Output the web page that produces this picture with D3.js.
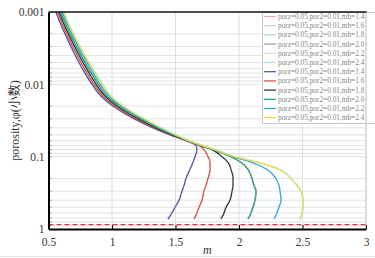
<!DOCTYPE html>
<html>
<head>
<meta charset="utf-8">
<script src="https://cdn.jsdelivr.net/npm/d3@7"></script>
<style>
  html, body { margin: 0; padding: 0; background: #fff; }
  svg { display: block; font-family: "Liberation Serif", "Times New Roman", serif; }
</style>
</head>
<body>
<div id="chart"></div>
<script>
// 공통 porosity 격자 (y축)
const porosity = [0.001, 0.0015, 0.002, 0.003, 0.005, 0.007, 0.01, 0.015, 0.02, 0.03, 0.04, 0.05,
  0.06, 0.07, 0.08, 0.1, 0.12, 0.15, 0.2, 0.25, 0.3, 0.4, 0.5, 0.6, 0.73];

// m 값
const mb14 = [0.559, 0.598, 0.630, 0.677, 0.740, 0.787, 0.843, 0.921, 1.008, 1.173, 1.323, 1.457,
  1.583, 1.661, 1.669, 1.654, 1.638, 1.614, 1.583, 1.567, 1.551, 1.528, 1.496, 1.472, 1.441];
const mb16 = [0.572, 0.611, 0.643, 0.691, 0.756, 0.804, 0.859, 0.937, 1.024, 1.189, 1.336, 1.466,
  1.586, 1.685, 1.724, 1.756, 1.772, 1.772, 1.756, 1.740, 1.724, 1.709, 1.685, 1.669, 1.646];
const mb18 = [0.584, 0.624, 0.656, 0.706, 0.772, 0.820, 0.875, 0.953, 1.040, 1.205, 1.348, 1.474,
  1.589, 1.693, 1.787, 1.866, 1.913, 1.937, 1.953, 1.953, 1.945, 1.929, 1.898, 1.882, 1.858];
const mb20 = [0.597, 0.636, 0.670, 0.720, 0.787, 0.837, 0.892, 0.968, 1.055, 1.220, 1.361, 1.483,
  1.592, 1.697, 1.795, 1.937, 2.016, 2.071, 2.102, 2.118, 2.134, 2.126, 2.110, 2.094, 2.071];
const mb22 = [0.609, 0.649, 0.683, 0.734, 0.803, 0.853, 0.908, 0.984, 1.071, 1.236, 1.373, 1.491,
  1.595, 1.701, 1.803, 1.953, 2.102, 2.220, 2.291, 2.315, 2.323, 2.331, 2.315, 2.299, 2.276];
const mb24 = [0.622, 0.661, 0.697, 0.748, 0.819, 0.870, 0.925, 1.000, 1.087, 1.252, 1.386, 1.500,
  1.598, 1.705, 1.807, 1.961, 2.150, 2.315, 2.409, 2.457, 2.488, 2.504, 2.504, 2.496, 2.480];

const mbLabels = ['1.4', '1.6', '1.8', '2.0', '2.2', '2.4'];
const xTicks = [0.5, 1, 1.5, 2, 2.5, 3];
const xTickLabels = ['0.5', '1', '1.5', '2', '2.5', '3'];
const yTicks = [0.001, 0.01, 0.1, 1];
const yTickLabels = ['0.001', '0.01', '0.1', '1'];
const cutoff = 0.87;

const width = 375, height = 258;
const plotLeft = 48.5, plotRight = 366, plotTop = 12, plotBottom = 229;

const series = [mb14, mb16, mb18, mb20, mb22, mb24];
const mainColors = ['#3a55a8', '#e0443c', '#2b2b2b', '#1fa463', '#1aa8e0', '#eedc3a'];
const faintColors = ['#f2aab2', '#cfcfcf', '#a9d9c9', '#9a9a9a', '#dadada', '#a9dbea'];

const svg = d3.select('#chart').append('svg')
  .attr('width', width)
  .attr('height', height)
  .attr('viewBox', `0 0 ${width} ${height}`);

const x = d3.scaleLinear().domain([0.5, 3]).range([plotLeft, plotRight]);
const y = d3.scaleLog().domain([0.001, 1]).range([plotTop, plotBottom]);

// 격자
const minor = [];
[0.001, 0.01, 0.1].forEach(d => { for (let k = 1; k <= 9; k++) minor.push(d * k); });
const inner = minor.filter(v => v > 0.001 && v < 1);

svg.append('g').selectAll('line')
  .data(inner)
  .enter().append('line')
  .attr('x1', plotLeft).attr('x2', plotRight)
  .attr('y1', d => y(d)).attr('y2', d => y(d))
  .style('stroke', '#e3e3e3').style('stroke-width', '1px');

svg.append('g').selectAll('line')
  .data(xTicks.slice(1, -1))
  .enter().append('line')
  .attr('x1', d => x(d)).attr('x2', d => x(d))
  .attr('y1', plotTop).attr('y2', plotBottom)
  .style('stroke', '#dedede').style('stroke-width', '1px');

// 왼쪽 보조 눈금
svg.append('g').selectAll('line')
  .data(inner)
  .enter().append('line')
  .attr('x1', plotLeft).attr('x2', plotLeft + 3)
  .attr('y1', d => y(d)).attr('y2', d => y(d))
  .style('stroke', '#999').style('stroke-width', '1px');

// 곡선
const line = d3.line()
  .x(d => x(d[0]))
  .y(d => y(d[1]))
  .curve(d3.curveMonotoneY);

const curves = svg.append('g');
series.forEach((s, i) => {
  curves.append('path')
    .datum(s.map((m, j) => [m, porosity[j]]))
    .attr('d', line)
    .style('fill', 'none')
    .style('stroke', faintColors[i])
    .style('stroke-width', '2px')
    .style('stroke-dasharray', '1.5,1');
});
series.forEach((s, i) => {
  curves.append('path')
    .datum(s.map((m, j) => [m, porosity[j]]))
    .attr('d', line)
    .style('fill', 'none')
    .style('stroke', mainColors[i])
    .style('stroke-width', '1.1px');
});

// 기준선 (빨간 점선)
svg.append('line')
  .attr('x1', plotLeft).attr('x2', plotRight)
  .attr('y1', y(cutoff)).attr('y2', y(cutoff))
  .style('stroke', '#e8333a').style('stroke-width', '1.2px')
  .style('stroke-dasharray', '5,3');

// 범례
const lg = svg.append('g');
lg.append('rect')
  .attr('x', 262.5).attr('y', 12.5).attr('width', 120).attr('height', 111)
  .style('fill', '#fff').style('stroke', '#c8c8c8').style('stroke-width', '1px');

const legendItems = [];
mbLabels.forEach((l, i) => legendItems.push({ label: l, color: faintColors[i] }));
mbLabels.forEach((l, i) => legendItems.push({ label: l, color: mainColors[i] }));

legendItems.forEach((d, i) => {
  const ly = 16.5 + i * 9.2;
  lg.append('line')
    .attr('x1', 264).attr('x2', 276)
    .attr('y1', ly).attr('y2', ly)
    .style('stroke', d.color).style('stroke-width', '1.2px');
  lg.append('text')
    .attr('x', 278).attr('y', ly + 2.4)
    .style('font-size', '7.3px')
    .style('fill', '#858585')
    .text(`porz=0.05,por2=0.01,mb=${d.label}`);
});

// 틀
svg.append('line').attr('x1', plotLeft).attr('x2', plotRight + 1).attr('y1', plotTop).attr('y2', plotTop)
  .style('stroke', '#111').style('stroke-width', '1.5px');
svg.append('line').attr('x1', plotRight).attr('x2', plotRight).attr('y1', plotTop).attr('y2', plotBottom)
  .style('stroke', '#bbb').style('stroke-width', '1px');

// 축
const xAxis = d3.axisBottom(x)
  .tickValues(xTicks)
  .tickFormat((d, i) => xTickLabels[i])
  .tickSizeInner(-4).tickSizeOuter(0).tickPadding(9);

const gx = svg.append('g').attr('transform', `translate(0,${plotBottom})`).call(xAxis);
gx.select('.domain').style('stroke', '#000').style('stroke-width', '2px');
gx.selectAll('.tick line').style('stroke', '#000');
gx.selectAll('text').style('font-size', '11.5px').style('fill', '#333')
  .style('font-family', '"Liberation Serif", serif');

const yAxis = d3.axisLeft(y)
  .tickValues(yTicks)
  .tickFormat((d, i) => yTickLabels[i])
  .tickSize(0).tickPadding(4);

const gy = svg.append('g').attr('transform', `translate(${plotLeft},0)`).call(yAxis);
gy.select('.domain').style('stroke', '#000').style('stroke-width', '2px');
gy.selectAll('text').style('font-size', '11.5px').style('fill', '#333')
  .style('font-family', '"Liberation Serif", serif');

// 축 제목
svg.append('text')
  .attr('x', (plotLeft + plotRight) / 2).attr('y', 254)
  .attr('text-anchor', 'middle')
  .style('font-size', '12px').style('font-style', 'italic').style('fill', '#333')
  .text('m');

svg.append('text')
  .attr('transform', `translate(19,${(plotTop + plotBottom) / 2}) rotate(-90)`)
  .attr('text-anchor', 'middle')
  .style('font-size', '12px').style('fill', '#333')
  .style('font-family', '"Liberation Serif", "Noto Sans CJK SC", serif')
  .text('porosity,φ(小数)');

// 바깥 테두리
svg.append('line').attr('x1', 0).attr('x2', width).attr('y1', 256.5).attr('y2', 256.5)
  .style('stroke', '#e2e2e2');
</script>
</body>
</html>
